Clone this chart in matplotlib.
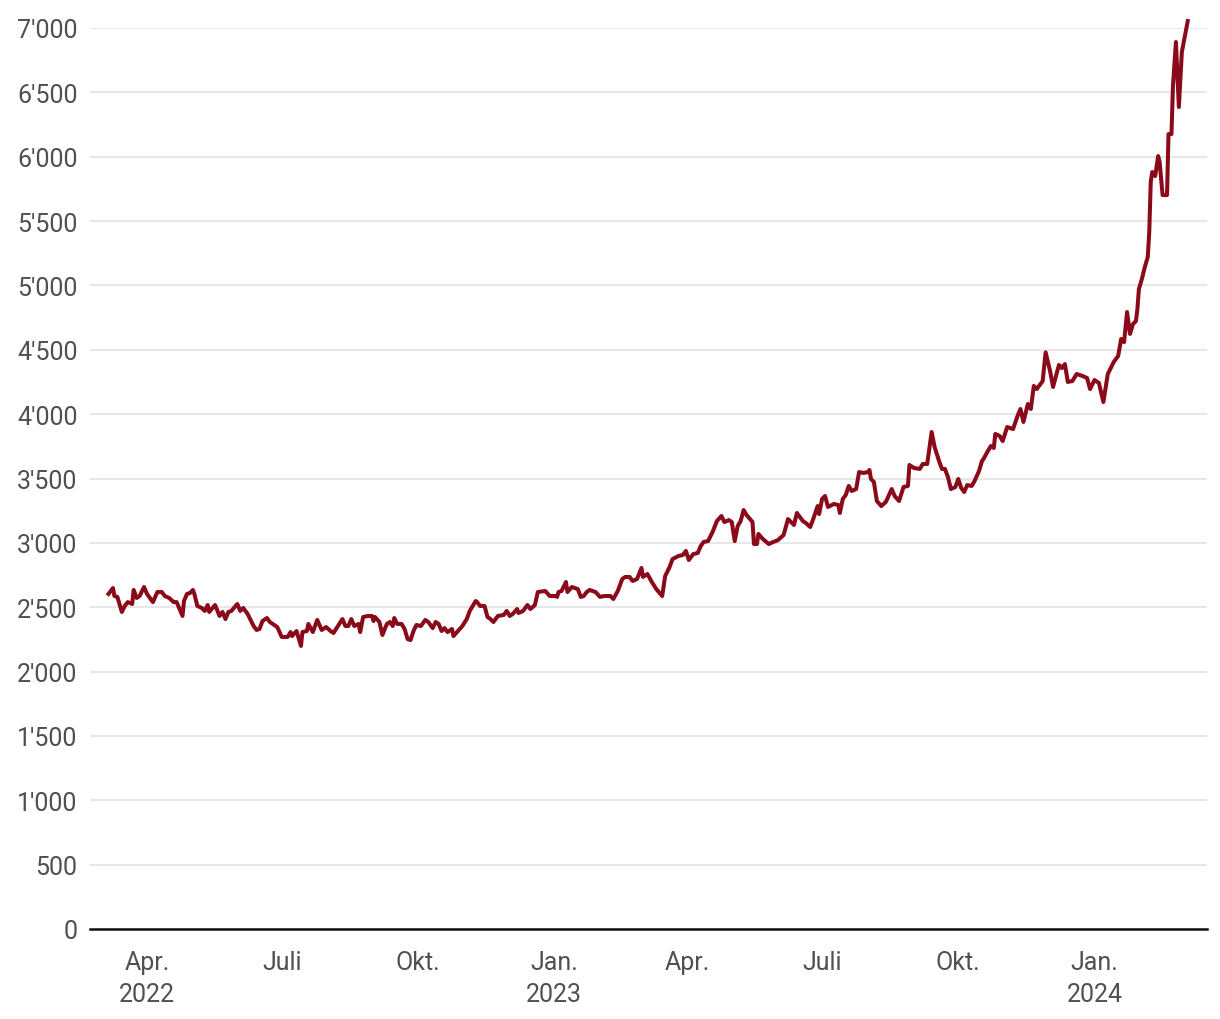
import matplotlib
matplotlib.use("Agg")
import matplotlib.pyplot as plt
import matplotlib.dates as mdates
from matplotlib.ticker import FuncFormatter, MultipleLocator
import numpy as np
import pandas as pd

# price series
dates = [
    "2022-03-06", "2022-03-09", "2022-03-10", "2022-03-12", "2022-03-15", "2022-03-17", "2022-03-19",
    "2022-03-22", "2022-03-23", "2022-03-25", "2022-03-27", "2022-03-30",
    "2022-04-01", "2022-04-05", "2022-04-08", "2022-04-11", "2022-04-13", "2022-04-16", "2022-04-19",
    "2022-04-21", "2022-04-25", "2022-04-26", "2022-04-28", "2022-04-30",
    "2022-05-02", "2022-05-03", "2022-05-05", "2022-05-08", "2022-05-10", "2022-05-12", "2022-05-13",
    "2022-05-17", "2022-05-20", "2022-05-22", "2022-05-24", "2022-05-26", "2022-05-28",
    "2022-06-01", "2022-06-03", "2022-06-05", "2022-06-08", "2022-06-12", "2022-06-14", "2022-06-16",
    "2022-06-18", "2022-06-21", "2022-06-23", "2022-06-26", "2022-06-28",
    "2022-07-01", "2022-07-05", "2022-07-07", "2022-07-08", "2022-07-11", "2022-07-14", "2022-07-15",
    "2022-07-18", "2022-07-19", "2022-07-22", "2022-07-25", "2022-07-28", "2022-07-31",
    "2022-08-03", "2022-08-05", "2022-08-08", "2022-08-11", "2022-08-13", "2022-08-15", "2022-08-17",
    "2022-08-19", "2022-08-22", "2022-08-23", "2022-08-25", "2022-08-28", "2022-08-31",
    "2022-09-01", "2022-09-02", "2022-09-05", "2022-09-07", "2022-09-10", "2022-09-12", "2022-09-14",
    "2022-09-15", "2022-09-17", "2022-09-20", "2022-09-22", "2022-09-24", "2022-09-26", "2022-09-28",
    "2022-09-30",
    "2022-10-03", "2022-10-06", "2022-10-08", "2022-10-11", "2022-10-13", "2022-10-15", "2022-10-17",
    "2022-10-19", "2022-10-21", "2022-10-24", "2022-10-25", "2022-10-28", "2022-10-31",
    "2022-11-03", "2022-11-05", "2022-11-09", "2022-11-10", "2022-11-12", "2022-11-15", "2022-11-17",
    "2022-11-19", "2022-11-21", "2022-11-24", "2022-11-28", "2022-11-30",
    "2022-12-02", "2022-12-04", "2022-12-07", "2022-12-08", "2022-12-11", "2022-12-14", "2022-12-16",
    "2022-12-19", "2022-12-21", "2022-12-26", "2022-12-29",
    "2023-01-02", "2023-01-03", "2023-01-04", "2023-01-06", "2023-01-09", "2023-01-10", "2023-01-13",
    "2023-01-17", "2023-01-19", "2023-01-21", "2023-01-23", "2023-01-25", "2023-01-29",
    "2023-02-01", "2023-02-04", "2023-02-08", "2023-02-10", "2023-02-13", "2023-02-16", "2023-02-18",
    "2023-02-21", "2023-02-23", "2023-02-26",
    "2023-03-01", "2023-03-02", "2023-03-05", "2023-03-08", "2023-03-11", "2023-03-15", "2023-03-17",
    "2023-03-20", "2023-03-22", "2023-03-26", "2023-03-29", "2023-03-31",
    "2023-04-02", "2023-04-05", "2023-04-08", "2023-04-10", "2023-04-12", "2023-04-15", "2023-04-18",
    "2023-04-21", "2023-04-24", "2023-04-26", "2023-04-29",
    "2023-05-01", "2023-05-03", "2023-05-05", "2023-05-07", "2023-05-09", "2023-05-11", "2023-05-15",
    "2023-05-16", "2023-05-18", "2023-05-19", "2023-05-22", "2023-05-26", "2023-05-29",
    "2023-06-01", "2023-06-05", "2023-06-08", "2023-06-12", "2023-06-14", "2023-06-18", "2023-06-20",
    "2023-06-23", "2023-06-25", "2023-06-28", "2023-06-29",
    "2023-07-01", "2023-07-03", "2023-07-05", "2023-07-09", "2023-07-12", "2023-07-13", "2023-07-15",
    "2023-07-17", "2023-07-19", "2023-07-21", "2023-07-24", "2023-07-26", "2023-07-29",
    "2023-08-01", "2023-08-02", "2023-08-03", "2023-08-05", "2023-08-07", "2023-08-10", "2023-08-13",
    "2023-08-14", "2023-08-17", "2023-08-19", "2023-08-22", "2023-08-25", "2023-08-28", "2023-08-29",
    "2023-09-01", "2023-09-05", "2023-09-07", "2023-09-10", "2023-09-13", "2023-09-15", "2023-09-18",
    "2023-09-20", "2023-09-22", "2023-09-24", "2023-09-26", "2023-09-29",
    "2023-10-01", "2023-10-03", "2023-10-05", "2023-10-07", "2023-10-10", "2023-10-12", "2023-10-15",
    "2023-10-17", "2023-10-18", "2023-10-21", "2023-10-23", "2023-10-25", "2023-10-26", "2023-10-29",
    "2023-10-31",
    "2023-11-03", "2023-11-07", "2023-11-10", "2023-11-12", "2023-11-14", "2023-11-17", "2023-11-19",
    "2023-11-21", "2023-11-23", "2023-11-27", "2023-11-29",
    "2023-12-02", "2023-12-04", "2023-12-08", "2023-12-10", "2023-12-12", "2023-12-14", "2023-12-17",
    "2023-12-20", "2023-12-24", "2023-12-27", "2023-12-29",
    "2024-01-01", "2024-01-04", "2024-01-07", "2024-01-10", "2024-01-14", "2024-01-17", "2024-01-19",
    "2024-01-21", "2024-01-23", "2024-01-25", "2024-01-27", "2024-01-29", "2024-01-30", "2024-01-31",
    "2024-02-02", "2024-02-04", "2024-02-06", "2024-02-07", "2024-02-08", "2024-02-09", "2024-02-11",
    "2024-02-13", "2024-02-14", "2024-02-16", "2024-02-19", "2024-02-20", "2024-02-22", "2024-02-23",
    "2024-02-25", "2024-02-27", "2024-02-29", "2024-03-04",
]
prices = [
    2603, 2649, 2587, 2580, 2463, 2510, 2540, 2525, 2634, 2572, 2587, 2657,
    2603, 2540, 2618, 2618, 2587, 2572, 2540, 2540, 2432, 2548, 2603, 2610,
    2634, 2603, 2510, 2494, 2471, 2517, 2463, 2517, 2432, 2463, 2408, 2463, 2471,
    2525, 2471, 2494, 2447, 2354, 2323, 2331, 2393, 2416, 2385, 2362, 2346,
    2269, 2269, 2307, 2276, 2315, 2199, 2307, 2315, 2370, 2307, 2401, 2323, 2346,
    2315, 2300, 2354, 2408, 2354, 2354, 2408, 2354, 2370, 2307, 2424, 2432, 2432,
    2393, 2424, 2385, 2284, 2370, 2385, 2354, 2416, 2370, 2370, 2331, 2253, 2245, 2315, 2362,
    2354, 2401, 2385, 2338, 2385, 2370, 2315, 2338, 2307, 2331, 2276, 2315, 2354,
    2408, 2471, 2548, 2540, 2510, 2510, 2424, 2408, 2385, 2432, 2440, 2471,
    2432, 2447, 2486, 2455, 2471, 2517, 2486, 2517, 2618, 2626, 2587,
    2587, 2580, 2618, 2626, 2696, 2618, 2657, 2641, 2580, 2587, 2618, 2634, 2618,
    2580, 2587, 2587, 2564, 2626, 2719, 2735, 2735, 2704, 2719,
    2805, 2735, 2758, 2696, 2641, 2587, 2742, 2812, 2874, 2898, 2906, 2937,
    2867, 2913, 2921, 2975, 3007, 3014, 3084, 3170, 3209, 3162, 3177,
    3162, 3014, 3131, 3170, 3255, 3216, 3162, 2991, 2991, 3069, 3030, 2991, 3007,
    3020, 3061, 3185, 3139, 3232, 3170, 3154, 3123, 3185, 3286, 3224,
    3341, 3364, 3279, 3302, 3294, 3232, 3341, 3372, 3442, 3403, 3418, 3550, 3543,
    3550, 3566, 3496, 3473, 3325, 3286, 3317, 3341, 3418, 3364, 3325, 3434, 3442, 3605,
    3582, 3574, 3613, 3613, 3861, 3745, 3636, 3574, 3574, 3512, 3418, 3434,
    3496, 3426, 3395, 3449, 3442, 3481, 3558, 3636, 3651, 3714, 3752, 3737, 3846, 3830, 3791,
    3900, 3884, 3985, 4040, 3939, 4079, 4040, 4219, 4195, 4257, 4480,
    4335, 4211, 4382, 4358, 4389, 4250, 4257, 4312, 4296, 4281, 4195,
    4265, 4242, 4094, 4312, 4405, 4452, 4584, 4560, 4793, 4623, 4700, 4723, 4817, 4972,
    5050, 5143, 5221, 5415, 5804, 5881, 5850, 6005, 5959, 5702, 5702, 6176, 6176, 6549,
    6891, 6386, 6813, 7054,
]

tick_dates = ["2022-04-01", "2022-07-01", "2022-10-01", "2023-01-01",
              "2023-04-01", "2023-07-01", "2023-10-01", "2024-01-01"]
tick_labels = ["Apr.\n2022", "Juli", "Okt.", "Jan.\n2023",
               "Apr.", "Juli", "Okt.", "Jan.\n2024"]

plt.rcParams['font.family'] = ['Roboto', 'DejaVu Sans']

x = pd.to_datetime(dates)

fig = plt.figure(figsize=(12.2, 10.2), dpi=100)
ax = fig.add_axes([90 / 1220, 1 - 930 / 1020, (1207 - 90) / 1220, (930 - 29) / 1020])

ax.plot(x, prices, color='#8a0a19', linewidth=2.9, solid_joinstyle='round', clip_on=False, zorder=3)

ax.set_ylim(0, 7000)
ax.set_xlim(pd.Timestamp("2022-02-21 12:00"), pd.Timestamp("2024-03-17"))
ax.yaxis.set_major_locator(MultipleLocator(500))
ax.yaxis.set_major_formatter(FuncFormatter(lambda v, p: f"{int(v):,}".replace(",", "'")))
ax.grid(axis='y', color='#e3e3e3', linewidth=1.2, zorder=0)

ax.set_xticks(pd.to_datetime(tick_dates))
ax.set_xticklabels(tick_labels, linespacing=1.45)

for side in ['left', 'right', 'top']:
    ax.spines[side].set_visible(False)
ax.spines['bottom'].set_color('#111111')
ax.spines['bottom'].set_linewidth(1.8)
ax.spines['bottom'].set_zorder(4)

ax.tick_params(axis='both', length=0, labelsize=18, labelcolor='#505050')
ax.tick_params(axis='y', pad=9)
ax.tick_params(axis='x', pad=15)

fig.savefig('out.png', dpi=100)
